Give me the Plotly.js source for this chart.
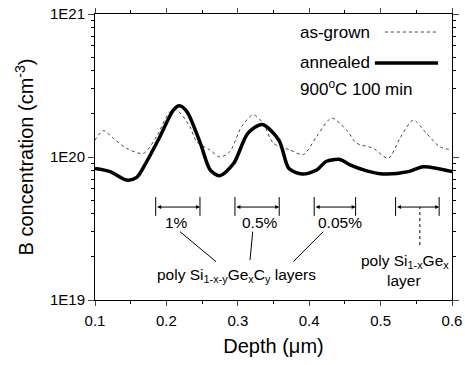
<!DOCTYPE html>
<html><head><meta charset="utf-8">
<script src="https://cdn.plot.ly/plotly-3.0.1.min.js"></script>
<style>html,body{margin:0;padding:0;background:#fff}#c{width:465px;height:365px}</style>
</head><body><div id="c"></div>
<script>
// as-grown profile (dotted)
var grownDepth = [0.100,0.1117,0.1257,0.1443,0.1676,0.1862,0.2049,0.2143,0.2329,0.2423,0.2609,0.2749,0.2889,0.3053,0.3217,0.3357,0.3497,0.3730,0.3917,0.4104,0.4314,0.4524,0.4664,0.4897,0.5108,0.5271,0.5458,0.5644,0.5830,0.600];
var grownConc  = [1.31e20,1.53e20,1.35e20,1.15e20,1.06e20,1.39e20,2.07e20,2.13e20,1.63e20,1.28e20,1.12e20,1.00e20,1.09e20,1.63e20,1.97e20,1.72e20,1.25e20,1.12e20,1.04e20,1.39e20,1.87e20,1.54e20,1.25e20,1.15e20,0.98e20,1.35e20,1.81e20,1.46e20,1.18e20,1.12e20];
// annealed profile (thick)
var annDepth = [0.100,0.1210,0.1444,0.1584,0.1724,0.1910,0.2097,0.2181,0.2289,0.2475,0.2615,0.2745,0.2941,0.3142,0.3342,0.3576,0.3717,0.3904,0.4105,0.4236,0.4431,0.4571,0.4805,0.5038,0.5388,0.5598,0.600];
var annConc  = [8.3e19,7.9e19,6.9e19,7.2e19,9.3e19,1.39e20,2.13e20,2.28e20,2.07e20,1.25e20,8.1e19,7.4e19,9.0e19,1.47e20,1.69e20,1.31e20,8.3e19,7.6e19,8.1e19,9.3e19,9.6e19,8.8e19,8.0e19,7.6e19,7.9e19,8.55e19,7.9e19];
var yTickVals = [1e19,1e20,1e21];
var yTickText = ['1E19','1E20','1E21'];
var xTickVals = [0.1,0.2,0.3,0.4,0.5,0.6];
var xTickText = ['0.1','0.2','0.3','0.4','0.5','0.6'];

var yMinor = [];
[19,20].forEach(function(d){for(var k=2;k<10;k++)yMinor.push(k*Math.pow(10,d));});

var F = 'Liberation Sans, Arial, sans-serif';
var traces = [
 {x:grownDepth,y:grownConc,mode:'lines',line:{color:'#444',width:1,dash:'dot',shape:'spline',smoothing:0.8},showlegend:false},
 {x:annDepth,y:annConc,mode:'lines',line:{color:'#000',width:3.5,shape:'spline',smoothing:0.8},showlegend:false}
];

function vline(x,y0,y1,dash){return {type:'line',xref:'x',yref:'paper',x0:x,x1:x,y0:y0,y1:y1,line:{color:'#000',width:1,dash:dash||'solid'}};}
function seg(x0,y0,x1,y1){return {type:'line',xref:'x',yref:'paper',x0:x0,x1:x1,y0:y0,y1:y1,line:{color:'#000',width:1}};}
function bracketArrow(x0,x1,y){return {xref:'x',yref:'paper',axref:'x',ayref:'paper',x:x1,y:y,ax:x0,ay:y,text:'',showarrow:true,arrowside:'end+start',arrowhead:2,arrowsize:0.8,arrowwidth:1,arrowcolor:'#000',standoff:0,startstandoff:0};}
function txt(x,y,t,xanchor,xref,size){return {xref:xref||'x',yref:'paper',x:x,y:y,text:t,showarrow:false,xanchor:xanchor||'center',yanchor:'middle',font:{family:F,size:size||15.5,color:'#000'}};}

var shapes = [
 vline(0.185,0.294,0.360), vline(0.247,0.294,0.360),
 vline(0.296,0.294,0.360), vline(0.358,0.294,0.360),
 vline(0.407,0.294,0.360), vline(0.465,0.294,0.360),
 vline(0.521,0.294,0.360), vline(0.582,0.294,0.360),
 vline(0.555,0.192,0.325,'dot'),
 seg(0.219,0.239,0.2695,0.134),
 seg(0.3209,0.239,0.3171,0.140),
 seg(0.4197,0.239,0.3777,0.134),
 {type:'line',xref:'paper',yref:'paper',x0:0.812,x1:0.958,y0:0.937,y1:0.937,line:{color:'#444',width:1,dash:'dot'}},
 {type:'line',xref:'paper',yref:'paper',x0:0.784,x1:0.961,y0:0.829,y1:0.829,line:{color:'#000',width:3.5}}
];
var annotations = [
 bracketArrow(0.185,0.247,0.325), bracketArrow(0.296,0.358,0.325),
 bracketArrow(0.407,0.465,0.325), bracketArrow(0.521,0.582,0.325),
 txt(0.214,0.272,'1%'), txt(0.331,0.270,'0.5%'), txt(0.443,0.272,'0.05%'),
 txt(0.2985,0.087,'poly Si<sub>1-x-y</sub>Ge<sub>x</sub>C<sub>y</sub> layers'),
 txt(0.534,0.134,'poly Si<sub>1-x</sub>Ge<sub>x</sub>'),
 txt(0.533,0.067,'layer'),
 txt(0.569,0.937,'as-grown','left','paper',17),
 txt(0.569,0.829,'annealed','left','paper',17),
 txt(0.569,0.741,'900<sup>o</sup>C 100 min','left','paper',17)
];

var layout = {
 width:465,height:365,margin:{l:95,r:13,t:14,b:65},
 paper_bgcolor:'#fff',plot_bgcolor:'#fff',
 font:{family:F,size:15,color:'#000'},
 xaxis:{range:[0.1,0.6],tickvals:xTickVals,ticktext:xTickText,ticks:'outside',ticklen:5,tickwidth:1,
   showline:true,linecolor:'#000',linewidth:1,mirror:'ticks',showgrid:false,zeroline:false,
   tickfont:{family:F,size:15},ticklabelstandoff:2,
   minor:{tickvals:[0.15,0.25,0.35,0.45,0.55],ticks:'outside',ticklen:3,tickcolor:'#000'},
   title:{text:'Depth (\u03bcm)',font:{family:F,size:20},standoff:10}},
 yaxis:{type:'log',range:[19,21],tickvals:yTickVals,ticktext:yTickText,ticks:'outside',ticklen:6,tickwidth:1,
   showline:true,linecolor:'#000',linewidth:1,mirror:'ticks',showgrid:false,zeroline:false,
   tickfont:{family:F,size:15},
   minor:{tickvals:yMinor,ticks:'outside',ticklen:3,tickcolor:'#000'},
   title:{text:'B concentration (cm<sup>-3</sup>)',font:{family:F,size:20},standoff:10}},
 shapes:shapes,annotations:annotations,showlegend:false
};
Plotly.newPlot('c',traces,layout,{staticPlot:true,displayModeBar:false});
</script></body></html>
